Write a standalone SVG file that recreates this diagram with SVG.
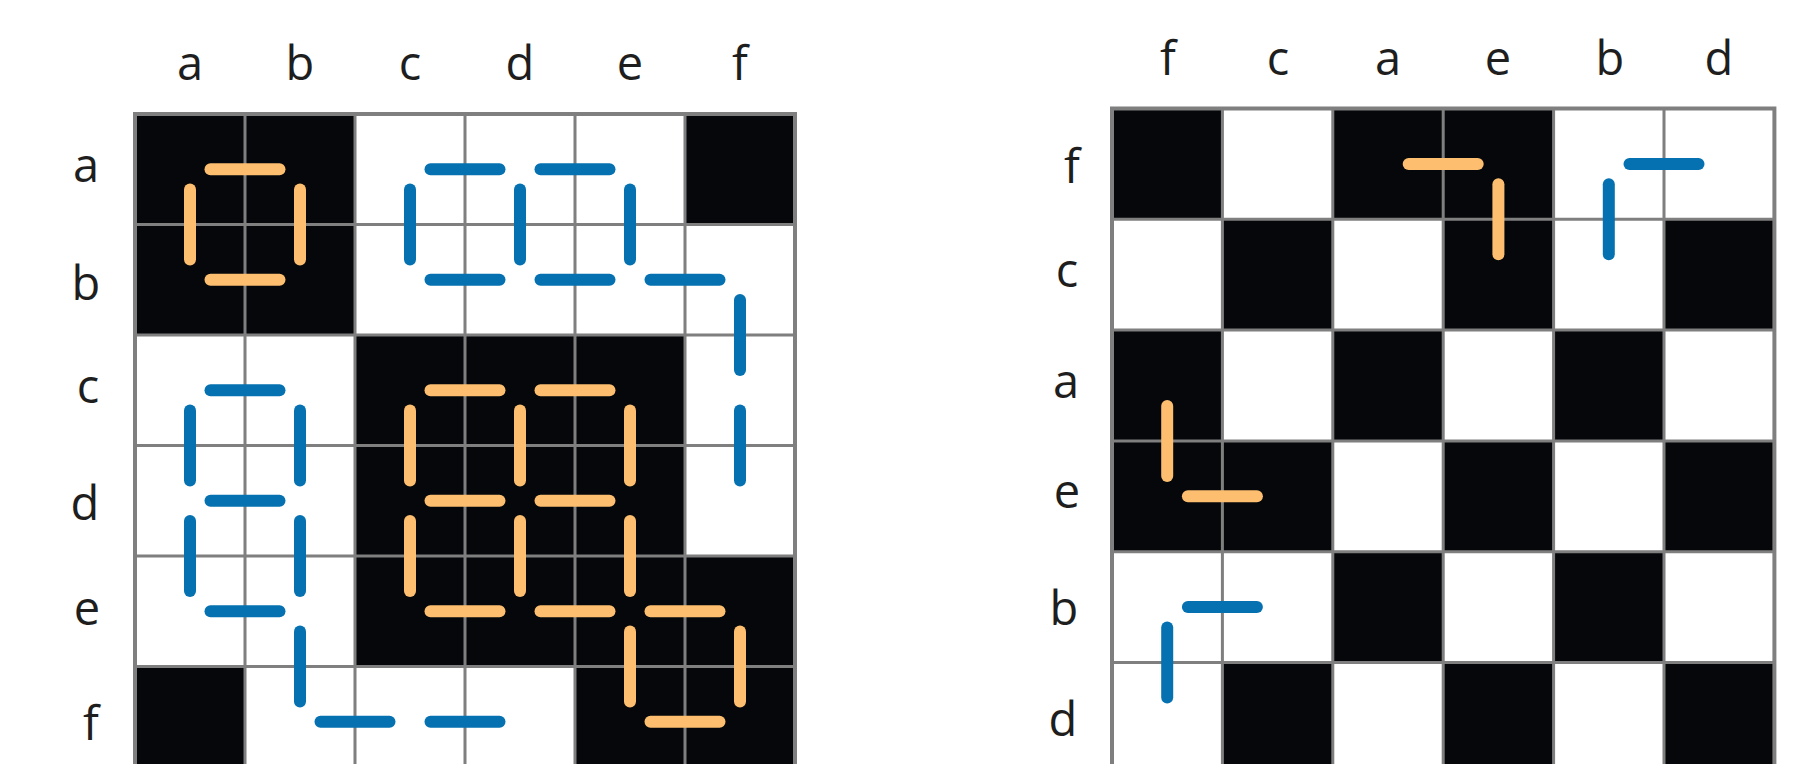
<svg xmlns="http://www.w3.org/2000/svg" width="1806" height="764" viewBox="0 0 1806 764">
<style>
.bg{fill:#ffffff}
.blk{fill:#05070a}
.gl{stroke:#7f7f7f;stroke-width:3;fill:none}
.border{stroke:#7f7f7f;stroke-width:4;fill:none}
.o{stroke:#fdbf6f;stroke-width:12;stroke-linecap:round;fill:none}
.b{stroke:#0571b0;stroke-width:12;stroke-linecap:round;fill:none}
.lbl{font-family:"Open Sans","Noto Sans","Liberation Sans",sans-serif;font-size:47px;fill:#1e1e1e;text-anchor:middle}
</style>
<rect x="0" y="0" width="1806" height="764" fill="#ffffff"/>

<g id="left-matrix">
  <rect class="bg" x="135" y="114" width="660" height="662"/>
  <rect class="blk" x="135" y="114" width="220" height="221"/>
  <rect class="blk" x="685" y="114" width="110" height="110.5"/>
  <rect class="blk" x="355" y="335" width="330" height="331.5"/>
  <rect class="blk" x="685" y="556" width="110" height="110.5"/>
  <rect class="blk" x="135" y="666.5" width="110" height="110"/>
  <rect class="blk" x="575" y="666.5" width="220" height="110"/>
  <path class="gl" d="M245 114V776M355 114V776M465 114V776M575 114V776M685 114V776M135 224.5H795M135 335H795M135 445.5H795M135 556H795M135 666.5H795"/>
  <rect class="border" x="135" y="114" width="660" height="662"/>
  <g id="left-col-labels">
    <text class="lbl" x="190" y="80">a</text>
    <text class="lbl" x="300" y="80">b</text>
    <text class="lbl" x="410" y="80">c</text>
    <text class="lbl" x="520" y="80">d</text>
    <text class="lbl" x="630" y="80">e</text>
    <text class="lbl" x="740" y="80">f</text>
  </g>
  <g id="left-row-labels">
    <text class="lbl" x="86" y="182">a</text>
    <text class="lbl" x="86" y="300">b</text>
    <text class="lbl" x="88" y="403">c</text>
    <text class="lbl" x="85" y="520">d</text>
    <text class="lbl" x="87" y="625">e</text>
    <text class="lbl" x="91" y="740">f</text>
  </g>
</g>

<g id="right-matrix">
  <rect class="bg" x="1112" y="108.5" width="662.4" height="664.8"/>
  <rect class="blk" x="1112" y="108.5" width="110.4" height="110.8"/>
  <rect class="blk" x="1332.8" y="108.5" width="220.8" height="110.8"/>
  <rect class="blk" x="1222.4" y="219.3" width="110.4" height="110.8"/>
  <rect class="blk" x="1443.2" y="219.3" width="110.4" height="110.8"/>
  <rect class="blk" x="1664" y="219.3" width="110.4" height="110.8"/>
  <rect class="blk" x="1112" y="330.1" width="110.4" height="110.8"/>
  <rect class="blk" x="1332.8" y="330.1" width="110.4" height="110.8"/>
  <rect class="blk" x="1553.6" y="330.1" width="110.4" height="110.8"/>
  <rect class="blk" x="1112" y="440.9" width="220.8" height="110.8"/>
  <rect class="blk" x="1443.2" y="440.9" width="110.4" height="110.8"/>
  <rect class="blk" x="1664" y="440.9" width="110.4" height="110.8"/>
  <rect class="blk" x="1332.8" y="551.7" width="110.4" height="110.8"/>
  <rect class="blk" x="1553.6" y="551.7" width="110.4" height="110.8"/>
  <rect class="blk" x="1222.4" y="662.5" width="110.4" height="110.8"/>
  <rect class="blk" x="1443.2" y="662.5" width="110.4" height="110.8"/>
  <rect class="blk" x="1664" y="662.5" width="110.4" height="110.8"/>
  <path class="gl" d="M1222.4 108.5V773.3M1332.8 108.5V773.3M1443.2 108.5V773.3M1553.6 108.5V773.3M1664 108.5V773.3M1112 219.3H1774.4M1112 330.1H1774.4M1112 440.9H1774.4M1112 551.7H1774.4M1112 662.5H1774.4"/>
  <rect class="border" x="1112" y="108.5" width="662.4" height="664.8"/>
  <g id="right-col-labels">
    <text class="lbl" x="1168" y="75">f</text>
    <text class="lbl" x="1278" y="75">c</text>
    <text class="lbl" x="1388" y="75">a</text>
    <text class="lbl" x="1498" y="75">e</text>
    <text class="lbl" x="1610" y="75">b</text>
    <text class="lbl" x="1719" y="75">d</text>
  </g>
  <g id="right-row-labels">
    <text class="lbl" x="1072" y="183">f</text>
    <text class="lbl" x="1067" y="287">c</text>
    <text class="lbl" x="1066" y="398">a</text>
    <text class="lbl" x="1067" y="508">e</text>
    <text class="lbl" x="1064" y="625">b</text>
    <text class="lbl" x="1063" y="736">d</text>
  </g>
</g>

<g id="connectors">
  <g id="left-orange-top">
    <line class="o" x1="210.5" y1="169.25" x2="279.5" y2="169.25"/>
    <line class="o" x1="210.5" y1="279.75" x2="279.5" y2="279.75"/>
    <line class="o" x1="190" y1="189.5" x2="190" y2="259.5"/>
    <line class="o" x1="300" y1="189.5" x2="300" y2="259.5"/>
  </g>
  <g id="left-blue-top">
    <line class="b" x1="430.5" y1="169.25" x2="499.5" y2="169.25"/>
    <line class="b" x1="540.5" y1="169.25" x2="609.5" y2="169.25"/>
    <line class="b" x1="410" y1="189.5" x2="410" y2="259.5"/>
    <line class="b" x1="520" y1="189.5" x2="520" y2="259.5"/>
    <line class="b" x1="630" y1="189.5" x2="630" y2="259.5"/>
    <line class="b" x1="430.5" y1="279.75" x2="499.5" y2="279.75"/>
    <line class="b" x1="540.5" y1="279.75" x2="609.5" y2="279.75"/>
    <line class="b" x1="650.5" y1="279.75" x2="719.5" y2="279.75"/>
    <line class="b" x1="740" y1="300" x2="740" y2="370"/>
    <line class="b" x1="740" y1="410.5" x2="740" y2="480.5"/>
  </g>
  <g id="left-blue-left">
    <line class="b" x1="210.5" y1="390.25" x2="279.5" y2="390.25"/>
    <line class="b" x1="190" y1="410.5" x2="190" y2="480.5"/>
    <line class="b" x1="300" y1="410.5" x2="300" y2="480.5"/>
    <line class="b" x1="210.5" y1="500.75" x2="279.5" y2="500.75"/>
    <line class="b" x1="190" y1="521" x2="190" y2="591"/>
    <line class="b" x1="300" y1="521" x2="300" y2="591"/>
    <line class="b" x1="210.5" y1="611.25" x2="279.5" y2="611.25"/>
    <line class="b" x1="300" y1="631.5" x2="300" y2="701.5"/>
    <line class="b" x1="320.5" y1="721.75" x2="389.5" y2="721.75"/>
    <line class="b" x1="430.5" y1="721.75" x2="499.5" y2="721.75"/>
  </g>
  <g id="left-orange-center">
    <line class="o" x1="430.5" y1="390.25" x2="499.5" y2="390.25"/>
    <line class="o" x1="540.5" y1="390.25" x2="609.5" y2="390.25"/>
    <line class="o" x1="410" y1="410.5" x2="410" y2="480.5"/>
    <line class="o" x1="520" y1="410.5" x2="520" y2="480.5"/>
    <line class="o" x1="630" y1="410.5" x2="630" y2="480.5"/>
    <line class="o" x1="430.5" y1="500.75" x2="499.5" y2="500.75"/>
    <line class="o" x1="540.5" y1="500.75" x2="609.5" y2="500.75"/>
    <line class="o" x1="410" y1="521" x2="410" y2="591"/>
    <line class="o" x1="520" y1="521" x2="520" y2="591"/>
    <line class="o" x1="630" y1="521" x2="630" y2="591"/>
    <line class="o" x1="430.5" y1="611.25" x2="499.5" y2="611.25"/>
    <line class="o" x1="540.5" y1="611.25" x2="609.5" y2="611.25"/>
    <line class="o" x1="650.5" y1="611.25" x2="719.5" y2="611.25"/>
    <line class="o" x1="630" y1="631.5" x2="630" y2="701.5"/>
    <line class="o" x1="740" y1="631.5" x2="740" y2="701.5"/>
    <line class="o" x1="650.5" y1="721.75" x2="719.5" y2="721.75"/>
  </g>
  <g id="right-segments">
    <line class="o" x1="1408.7" y1="163.9" x2="1477.7" y2="163.9"/>
    <line class="o" x1="1498.4" y1="184.3" x2="1498.4" y2="254.3"/>
    <line class="b" x1="1629.5" y1="163.9" x2="1698.5" y2="163.9"/>
    <line class="b" x1="1608.8" y1="184.3" x2="1608.8" y2="254.3"/>
    <line class="o" x1="1167.2" y1="405.9" x2="1167.2" y2="475.9"/>
    <line class="o" x1="1187.9" y1="496.3" x2="1256.9" y2="496.3"/>
    <line class="b" x1="1187.9" y1="607.1" x2="1256.9" y2="607.1"/>
    <line class="b" x1="1167.2" y1="627.5" x2="1167.2" y2="697.5"/>
  </g>
</g>
</svg>
